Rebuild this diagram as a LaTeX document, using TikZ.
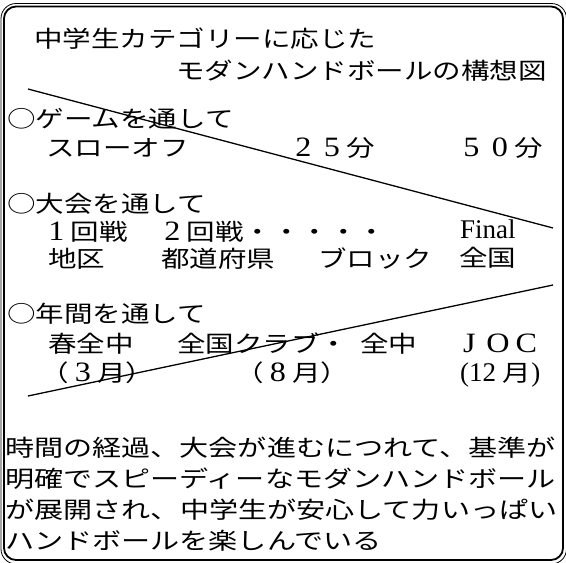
\documentclass[tikz,border=0pt]{standalone}
\usepackage{fontspec}
\newfontfamily\jp[FakeStretch=1.24]{Noto Sans CJK JP}
\newfontfamily\jpb[FakeStretch=1.265]{Noto Sans CJK JP}
\newfontfamily\tms{Liberation Serif}
\newfontfamily\tmsw[FakeStretch=1.15]{Liberation Serif}
\newcommand{\fw}[1]{\makebox[28.5pt][c]{\tmsw\fontsize{28}{30}\selectfont #1}}
\tikzset{
  txt/.style={anchor=base west, inner sep=0pt, font={\jp\fontsize{23}{27}\selectfont}},
  ptxt/.style={anchor=base west, inner sep=0pt, font={\jpb\fontsize{23}{27}\selectfont}},
  diag/.style={line width=1.3pt},
  innerframe/.style={line width=1.8pt, rounded corners=12pt},
  outerframe/.style={line width=0.8pt, rounded corners=15pt}
}
\begin{document}
\begin{tikzpicture}[x=1pt,y=-1pt]
\useasboundingbox (0,0) rectangle (566,563);
\fill[white] (0,0) rectangle (566,563);
\draw[outerframe] (1,3.5) rectangle (566.5,564);
\draw[innerframe] (4,6.5) rectangle (563,560);
% title
\node[txt] (t1) at (34,47) {中学生カテゴリーに応じた};
\node[txt] (t2) at (176,79) {モダンハンドボールの構想図};
% game
\node[txt] (g0) at (7,127) {○ゲームを通して};
\node[txt] (g1) at (46,156) {スローオフ};
\node[txt] (g2) at (289,156) {\fw{2}\fw{5}分};
\node[txt] (g3) at (457,156) {\fw{5}\fw{0}分};
% tournament
\node[txt] (k0) at (7,212) {○大会を通して};
\node[txt] (k1) at (42,240) {\fw{1}回戦};
\node[txt] (k2) at (158,240) {\fw{2}回戦・・・・・};
\node[txt] (k3) at (460,238) {\tms\fontsize{27}{30}\selectfont Final};
\node[txt] (k4) at (48,267) {地区};
\node[txt] (k5) at (161,267) {都道府県};
\node[txt] (k6) at (318,267) {ブロック};
\node[txt] (k7) at (459,266) {全国};
% year
\node[txt] (n0) at (7,322) {○年間を通して};
\node[txt] (n1) at (48,352) {春全中};
\node[txt] (n2) at (177,352) {全国クラブ・};
\node[txt] (n3) at (360,352) {全中};
\node[txt] (n4) at (455,352) {\fw{J}\fw{O}\fw{C}};
\node[txt] (n5) at (40,381) {（\fw{3}月）};
\node[txt] (n6) at (235,381) {（\fw{8}月）};
\node[txt] (n7) at (460,381) {\tms\fontsize{27}{30}\selectfont (12 \jp\fontsize{23}{27}\selectfont 月\tms\fontsize{27}{30}\selectfont )};
% diagonals
\coordinate (d1a) at (28,89);
\coordinate (d1b) at (553,228);
\coordinate (d2a) at (28,396);
\coordinate (d2b) at (553,285);
\draw[diag] (d1a) -- (d1b);
\draw[diag] (d2a) -- (d2b);
% paragraph
\node[ptxt] (p1) at (5,456) {時間の経過、大会が進むにつれて、基準が};
\node[ptxt] (p2) at (5,487) {明確でスピーディーなモダンハンドボール};
\node[ptxt] (p3) at (5,518) {が展開され、中学生が安心して力いっぱい};
\node[ptxt] (p4) at (5,549) {ハンドボールを楽しんでいる};
\end{tikzpicture}
\end{document}
